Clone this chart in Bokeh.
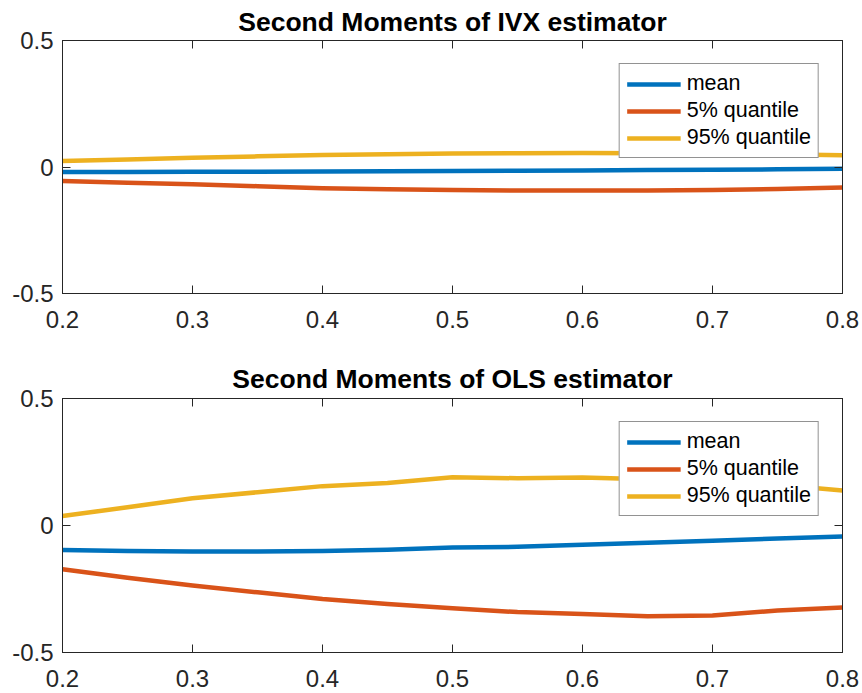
from bokeh.plotting import figure
from bokeh.models import (Range1d, FixedTicker, LinearAxis, Legend, LegendItem,
                          CustomLabelingPolicy)
from bokeh.layouts import column
from bokeh.embed import file_html
from bokeh.resources import INLINE

# Grid of fractions on the x axis
fractions = [0.2, 0.25, 0.3, 0.35, 0.4, 0.45, 0.5, 0.55, 0.6, 0.65, 0.7, 0.75, 0.8]

x_ticks = [0.2, 0.3, 0.4, 0.5, 0.6, 0.7, 0.8]
x_tick_labels = ["0.2", "0.3", "0.4", "0.5", "0.6", "0.7", "0.8"]
y_ticks = [-0.5, 0.0, 0.5]
y_tick_labels = ["-0.5", "0", "0.5"]

series_names = ["mean", "5% quantile", "95% quantile"]

# IVX estimator
ivx_mean = [-0.020, -0.020, -0.019, -0.019, -0.018, -0.017, -0.016, -0.015, -0.014, -0.012, -0.011, -0.009, -0.007]
ivx_q05 = [-0.055, -0.062, -0.068, -0.076, -0.084, -0.088, -0.091, -0.093, -0.093, -0.093, -0.091, -0.087, -0.081]
ivx_q95 = [0.024, 0.030, 0.037, 0.042, 0.047, 0.050, 0.053, 0.054, 0.055, 0.054, 0.052, 0.050, 0.046]

# OLS estimator
ols_mean = [-0.096, -0.100, -0.102, -0.102, -0.100, -0.095, -0.087, -0.084, -0.076, -0.068, -0.060, -0.051, -0.043]
ols_q05 = [-0.172, -0.206, -0.236, -0.263, -0.289, -0.309, -0.326, -0.341, -0.348, -0.357, -0.354, -0.335, -0.323]
ols_q95 = [0.037, 0.072, 0.107, 0.131, 0.155, 0.167, 0.190, 0.186, 0.189, 0.182, 0.175, 0.160, 0.138]

COLORS = ["#0072BD", "#D95319", "#EDB120"]
AXIS_COLOR = "#262626"
FONT = "Liberation Sans"

# Mirror axes (top/right) only carry inward ticks, so no labels are kept
HIDE_ALL_LABELS = """
for (const i of indices)
    indices.unset(i)
return indices
"""


def style_axis(ax, ticks, labels, show_labels):
    ax.ticker = FixedTicker(ticks=ticks)
    ax.axis_line_color = AXIS_COLOR
    ax.axis_line_width = 1
    ax.major_tick_line_color = AXIS_COLOR
    ax.major_tick_line_width = 1
    ax.major_tick_in = 8
    ax.major_tick_out = 0
    ax.minor_tick_line_color = None
    ax.major_label_text_font = FONT
    ax.major_label_text_color = AXIS_COLOR
    if show_labels:
        ax.major_label_text_font_size = "24px"
        ax.major_label_overrides = {t: s for t, s in zip(ticks, labels)}
    else:
        ax.major_label_text_font_size = "0px"
        ax.major_label_policy = CustomLabelingPolicy(code=HIDE_ALL_LABELS)
        ax.major_label_standoff = 0


def make_panel(title, mean, q05, q95, height, border_top, border_bottom, title_standoff):
    p = figure(width=862, height=height, output_backend="svg", toolbar_location=None,
               x_range=Range1d(0.2, 0.8), y_range=Range1d(-0.5, 0.5),
               min_border_left=62, min_border_right=20,
               min_border_top=border_top, min_border_bottom=border_bottom,
               x_axis_location=None, y_axis_location=None)
    p.title.text = title
    p.title.text_font = FONT
    p.title.text_font_size = "26.5px"
    p.title.text_font_style = "bold"
    p.title.text_color = "black"
    p.title.align = "center"
    p.title.standoff = title_standoff
    p.xgrid.visible = False
    p.ygrid.visible = False
    p.outline_line_color = AXIS_COLOR
    p.outline_line_width = 1
    p.background_fill_color = "white"
    p.border_fill_color = "white"

    bottom = LinearAxis()
    style_axis(bottom, x_ticks, x_tick_labels, True)
    bottom.major_label_standoff = 17
    p.add_layout(bottom, "below")
    top = LinearAxis()
    style_axis(top, x_ticks, x_tick_labels, False)
    p.add_layout(top, "above")
    left = LinearAxis()
    style_axis(left, y_ticks, y_tick_labels, True)
    left.major_label_standoff = 9
    p.add_layout(left, "left")
    right = LinearAxis()
    style_axis(right, y_ticks, y_tick_labels, False)
    p.add_layout(right, "right")

    items = []
    for name, ys, color in zip(series_names, [mean, q05, q95], COLORS):
        r = p.line(fractions, ys, line_color=color, line_width=4.5, line_join="round")
        items.append(LegendItem(label=name, renderers=[r]))

    legend = Legend(items=items, location="top_right", margin=23,
                    label_text_font=FONT, label_text_font_size="21.5px",
                    label_text_color="black", glyph_width=54, glyph_height=22,
                    label_height=22, label_standoff=6, spacing=2, padding=7,
                    border_line_color=AXIS_COLOR, border_line_width=1,
                    background_fill_color="white", background_fill_alpha=1.0)
    p.add_layout(legend, "center")
    return p


p1 = make_panel("Second Moments of IVX estimator", ivx_mean, ivx_q05, ivx_q95, 346, 40, 53, 7)
p2 = make_panel("Second Moments of OLS estimator", ols_mean, ols_q05, ols_q95, 346, 52, 40, 10)

layout = column(p1, p2, spacing=0)
open("out.html", "w").write(file_html(layout, INLINE))
